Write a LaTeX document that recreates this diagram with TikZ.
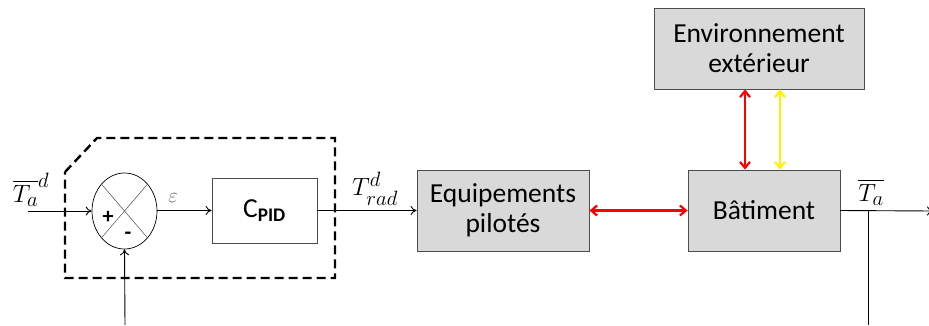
\documentclass[tikz,border=0pt]{standalone}
\usepackage{amsmath,amssymb}
\usepackage{fontspec}
\setmainfont{Carlito}
\usepackage{tikz}
\usetikzlibrary{arrows.meta,positioning,calc,shapes.geometric}

\tikzset{
    blocbox/.style={draw=black!70, fill=gray!30, line width=0.8pt, align=center,
        font=\fontsize{27.5}{30}\selectfont},
    sig/.style={line width=0.9pt, -{To[length=6pt,width=9pt]}},
    flux/.style={line width=2.2pt, {Straight Barb[length=6pt,width=10pt]}-{Straight Barb[length=6pt,width=10pt]}},
    lbl/.style={font=\fontsize{30}{30}\selectfont, inner sep=0pt},
}

\begin{document}
\begin{tikzpicture}[x=1pt, y=-1pt]
    \useasboundingbox (0,0) rectangle (929,325);

    % Controller boundary
    \draw[line width=2.4pt, dash pattern=on 9pt off 5pt]
        (65,172) -- (97,138) -- (335,138) -- (335,278) -- (65,278) -- cycle;

    % Comparator
    \node[draw, ellipse, line width=0.7pt, minimum width=65pt, minimum height=76pt, inner sep=0pt]
        (sum) at (124.5,211) {};
    \draw[line width=0.5pt, black!70] (sum.north west) -- (sum.south east);
    \draw[line width=0.5pt, black!70] (sum.north east) -- (sum.south west);
    \node[font=\fontsize{22}{22}\selectfont\bfseries] (plus) at (108,217) {+};
    \node[font=\fontsize{22}{22}\selectfont\bfseries] (minus) at (128,236) {-};

    % Blocks
    \node[draw=black!70, line width=0.8pt, fill=white, minimum width=105pt, minimum height=65pt,
        font=\fontsize{27.5}{30}\selectfont] (cpid) at (264.5,210.5) {C\textsubscript{\textbf{PID}}};
    \node[blocbox, minimum width=172pt, minimum height=81pt] (equip) at (503,210.5)
        {Equipements\\pilotés};
    \node[blocbox, minimum width=152pt, minimum height=81pt] (bat) at (764,210.5) {Bâtiment};
    \node[blocbox, minimum width=210pt, minimum height=81pt] (env) at (759,48.5)
        {Environnement\\extérieur};

    % Free ends
    \coordinate (in) at (28,211);
    \coordinate (fb) at (125,325);
    \coordinate (tap) at (868,211);
    \coordinate (tapend) at (868,325);
    \coordinate (out) at (933,211);

    % Signals
    \draw[sig] (in) -- (in -| sum.west);
    \draw[sig] (fb) -- (sum.south);
    \draw[sig] (sum.east |- cpid.west) -- (cpid.west);
    \draw[sig] (cpid.east) -- (equip.west);
    \draw[sig] (bat.east) -- (out);
    \draw[line width=0.9pt] (tap) -- (tapend);

    % Exchanges
    \draw[flux, red] (equip.east) -- (bat.west);
    \draw[flux, red] ([xshift=-14pt]env.south) -- ([xshift=-14pt]env.south |- bat.north);
    \draw[flux, yellow] ([xshift=21pt]env.south) -- ([xshift=21pt]env.south |- bat.north);

    % Labels
    \node[lbl] (lref) at (31,190) {$\overline{T_a}^{d}$};
    \node[font=\fontsize{20}{20}\selectfont, black!60] (leps) at (173,198) {$\varepsilon$};
    \node[lbl] (lrad) at (375,189) {$T_{rad}^{d}$};
    \node[lbl] (lout) at (871,192) {$\overline{T_a}$};
\end{tikzpicture}
\end{document}
